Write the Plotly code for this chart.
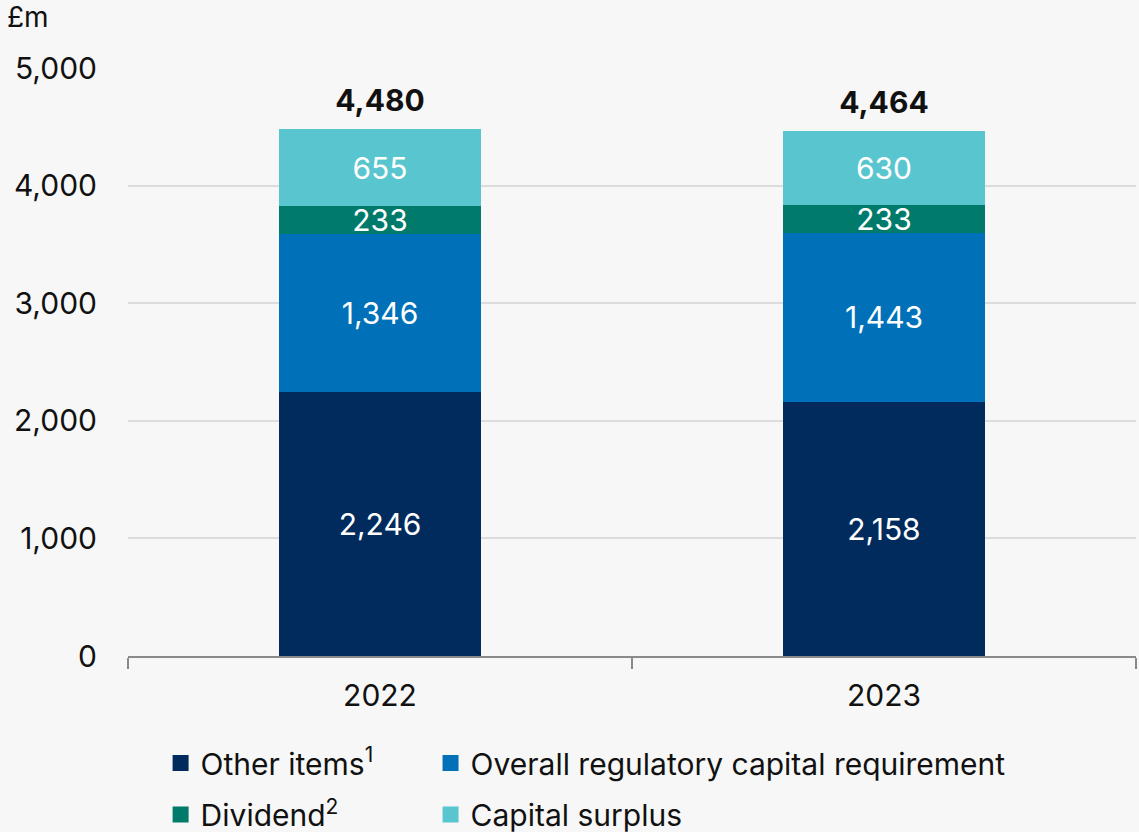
import plotly.graph_objects as go

years = ["2022", "2023"]
other_items = [2246, 2158]
overall_req = [1346, 1443]
dividend = [233, 233]
capital_surplus = [655, 630]
totals = [4480, 4464]

series = [
    ("Other items<sup>1</sup>", other_items, "#002b5c"),
    ("Overall regulatory capital requirement", overall_req, "#0071b8"),
    ("Dividend<sup>2</sup>", dividend, "#007a6a"),
    ("Capital surplus", capital_surplus, "#59c6cf"),
]
# legend placement (container fractions): x, y
legend_pos = [(0.141, 0.083), (0.378, 0.083), (0.141, 0.021), (0.378, 0.021)]

FONT = "Inter"
FS = 30
fig = go.Figure()
for name, vals, color in series:
    fig.add_trace(go.Bar(
        x=years, y=vals, name=name, marker=dict(color=color, line=dict(width=0)),
        text=[f"{v:,}" for v in vals], textposition="inside", insidetextanchor="middle",
        textfont=dict(color="white", size=FS, family=FONT), showlegend=False,
        width=0.4, hoverinfo="skip",
    ))

fig.add_trace(go.Scatter(
    x=years, y=totals, mode="markers+text", text=[f"{t:,}" for t in totals],
    texttemplate="<b>%{text}</b>", textposition="top center",
    marker=dict(size=15, color="rgba(0,0,0,0)"),
    textfont=dict(size=FS, color="#111111", family=FONT),
    showlegend=False, hoverinfo="skip",
))

leg_layout = {}
for i, ((name, vals, color), (lx, ly)) in enumerate(zip(series, legend_pos)):
    key = "legend" if i == 0 else f"legend{i + 1}"
    fig.add_trace(go.Scatter(
        x=[years[0]], y=[None], mode="markers", name=name, legend=key,
        marker=dict(symbol="square", size=16, color=color), showlegend=True,
        hoverinfo="skip",
    ))
    leg_layout[key] = dict(orientation="h", x=lx, y=ly, xref="container", yref="container",
                           xanchor="left", yanchor="middle",
                           font=dict(size=FS, family=FONT), itemsizing="trace",
                           bgcolor="rgba(0,0,0,0)", itemwidth=30)

fig.add_annotation(xref="paper", yref="paper", x=-0.122, y=1.087, xanchor="left",
                   yanchor="middle", text="£m", showarrow=False,
                   font=dict(size=FS - 2, color="#111111", family=FONT))

fig.update_layout(
    width=1139, height=832,
    barmode="stack",
    paper_bgcolor="#f7f7f7", plot_bgcolor="#f7f7f7",
    margin=dict(l=128, r=3, t=68, b=176),
    font=dict(family=FONT, size=FS, color="#111111"),
    uniformtext=dict(mode="show", minsize=FS),
    xaxis=dict(type="category", categoryorder="array", categoryarray=years,
               range=[-0.5, 1.5], automargin=False,
               showgrid=False, showline=True, linecolor="#8a8a8a",
               linewidth=1.5, ticks="outside", tickson="boundaries", ticklen=11,
               tickcolor="#8a8a8a", tickwidth=1.5, ticklabelstandoff=12, tickangle=0,
               tickfont=dict(size=FS, family=FONT)),
    yaxis=dict(range=[0, 5000], tickvals=[0, 1000, 2000, 3000, 4000, 5000],
               tickformat=",d", showgrid=True, gridcolor="#dcdcdc", gridwidth=1.5,
               zeroline=False, showline=False, ticks="", ticklabelstandoff=30,
               automargin=False, tickfont=dict(size=FS, family=FONT)),
    showlegend=True,
    **leg_layout,
)

fig.write_html("out.html", config={"displayModeBar": False},
               post_script="document.body.style.margin='0';document.body.style.background='#f7f7f7';")
